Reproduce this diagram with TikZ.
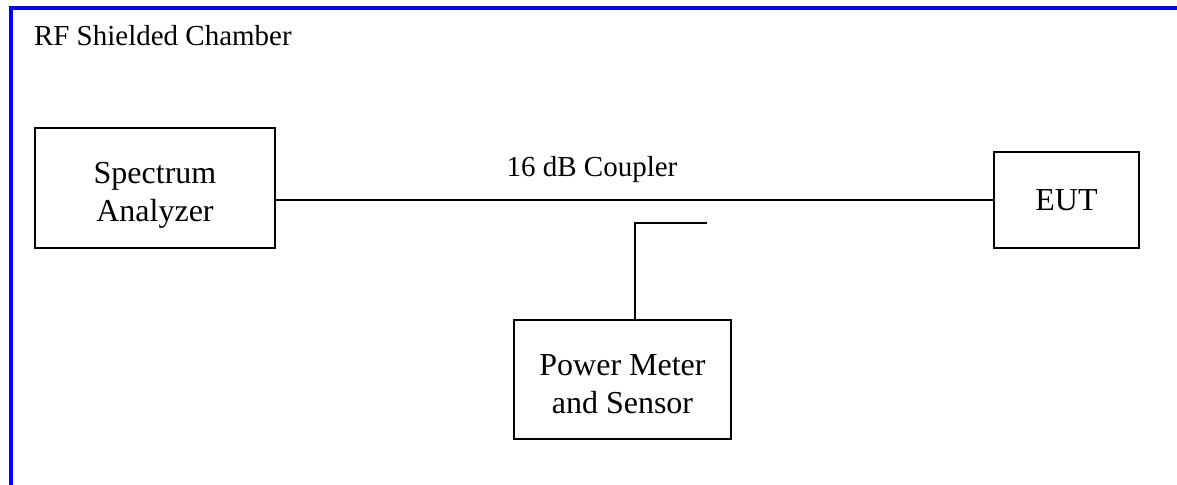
\documentclass[tikz,border=0pt]{standalone}
\usepackage{fontspec}
\setmainfont{Liberation Serif}
\usetikzlibrary{positioning,calc}
\definecolor{chamberblue}{RGB}{0,0,255}

\begin{document}
\begin{tikzpicture}[x=0.5pt, y=-0.5pt, line width=1pt,
  every node/.style={font=\fontsize{14.5}{19}\selectfont, inner sep=0pt},
  box/.style={draw},
  boxtext/.style={align=center, font=\fontsize{16}{19}\selectfont}]
\useasboundingbox (0,0) rectangle (1177,485);
\draw[chamberblue, line width=2pt] (11,485) |- (1177,8);
\node[anchor=base west] (room) at (33,46) {RF Shielded Chamber};
\node[box,minimum width=120pt,minimum height=60pt] (sa) at (155,188) {};
\node[boxtext] (satext) at ([yshift=-3.5pt]sa.center) {Spectrum\\Analyzer};
\node[box,boxtext,minimum width=72.5pt,minimum height=48pt] (eut) at (1066.5,200) {EUT};
\node[box,minimum width=108.5pt,minimum height=59.5pt] (pm) at (622.5,379.5) {};
\node[boxtext] (pmtext) at ([yshift=-2.25pt]pm.center) {Power Meter\\and Sensor};
\node[anchor=base] (cpl) at (592,177) {16 dB Coupler};
\coordinate (tap) at (707,223);
\coordinate (bend) at (635,223);
\draw (eut.west -| sa.east) -- (eut.west);
\draw (tap) -- (bend) -- (bend |- pm.north);
\end{tikzpicture}
\end{document}
